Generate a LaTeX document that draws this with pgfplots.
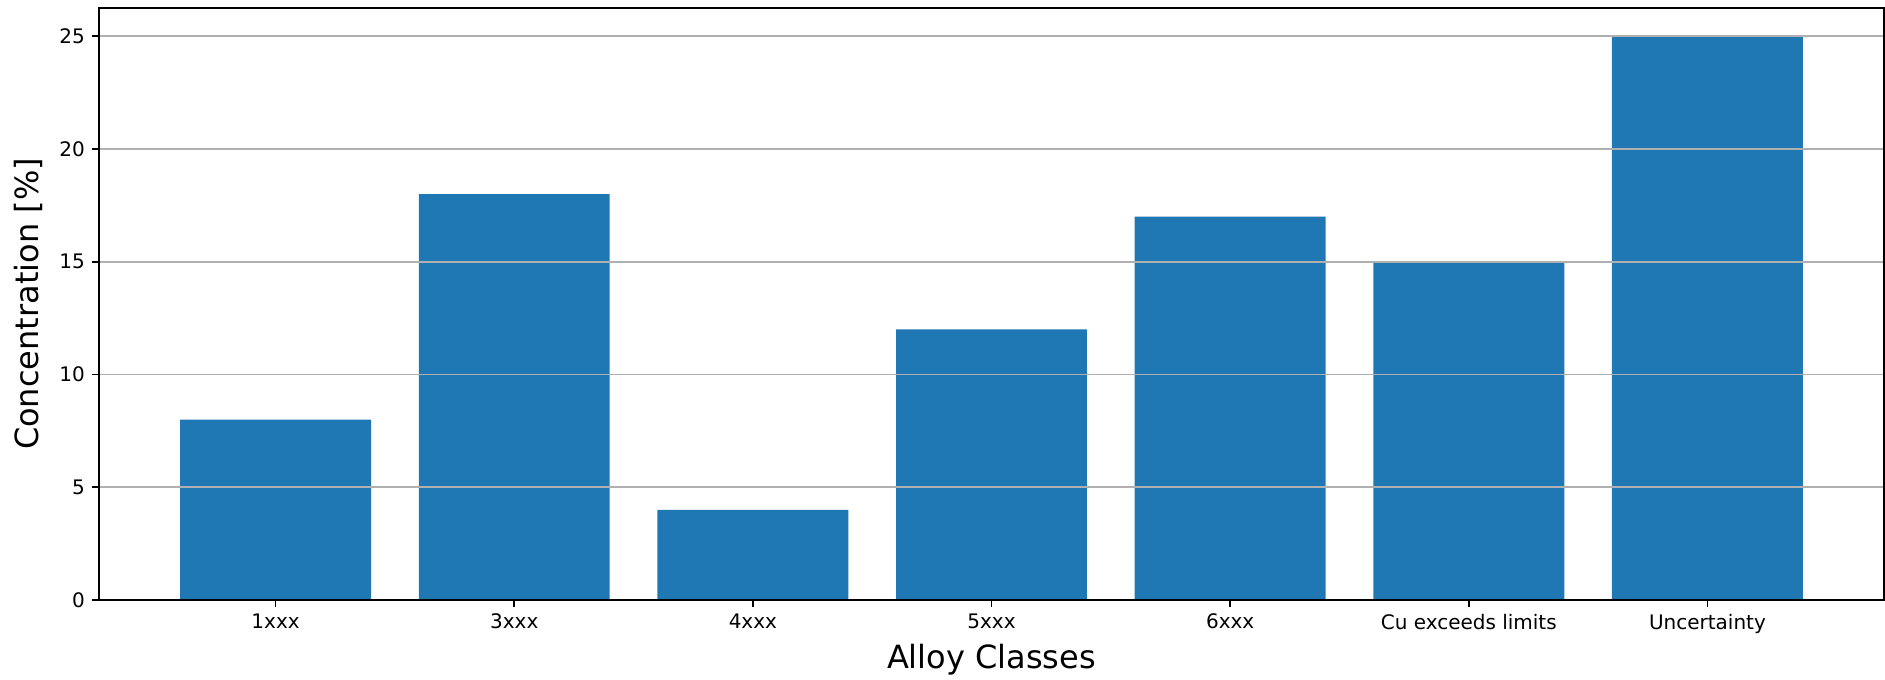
\documentclass[border=0pt]{standalone}
\usepackage{fontspec}
\setmainfont{DejaVu Sans}
\usepackage{pgfplots}
\pgfplotsset{compat=1.18}
\definecolor{barblue}{HTML}{1F77B4}
\definecolor{gridgray}{HTML}{B0B0B0}
\begin{document}
\begin{tikzpicture}
\begin{axis}[
  scale only axis,
  width=892.5pt, height=296pt,
  xmin=-0.74, xmax=6.74, ymin=0, ymax=26.25,
  xtick={0,1,2,3,4,5,6},
  xticklabels={1xxx,3xxx,4xxx,5xxx,6xxx,Cu exceeds limits,Uncertainty},
  ytick={0,5,10,15,20,25},
  ymajorgrids,
  major grid style={gridgray, line width=0.8pt},
  axis on top,
  tick align=outside, tick pos=left,
  major tick length=3.5pt,
  tick style={black, line width=0.8pt},
  axis line style={line width=0.8pt},
  ticklabel style={font=\fontsize{10}{12}\selectfont},
  /pgf/number format/assume math mode=true,
  xlabel={Alloy Classes},
  ylabel={Concentration [\%]},
  xlabel style={font=\fontsize{16}{19}\selectfont, at={(axis description cs:0.5,-0.1149)}, anchor=base},
  ylabel style={font=\fontsize{16}{19}\selectfont, at={(axis description cs:-0.0398,0.5)}, anchor=center},
]
\addplot[ybar, bar width=0.8, fill=barblue, draw=none]
  coordinates {(0,8) (1,18) (2,4) (3,12) (4,17) (5,15) (6,25)};
\end{axis}
\pgfresetboundingbox
\path ([shift={(-49.5pt,-39.5pt)}]current axis.south west) rectangle ([shift={(0.5pt,4pt)}]current axis.north east);
\end{tikzpicture}
\end{document}
